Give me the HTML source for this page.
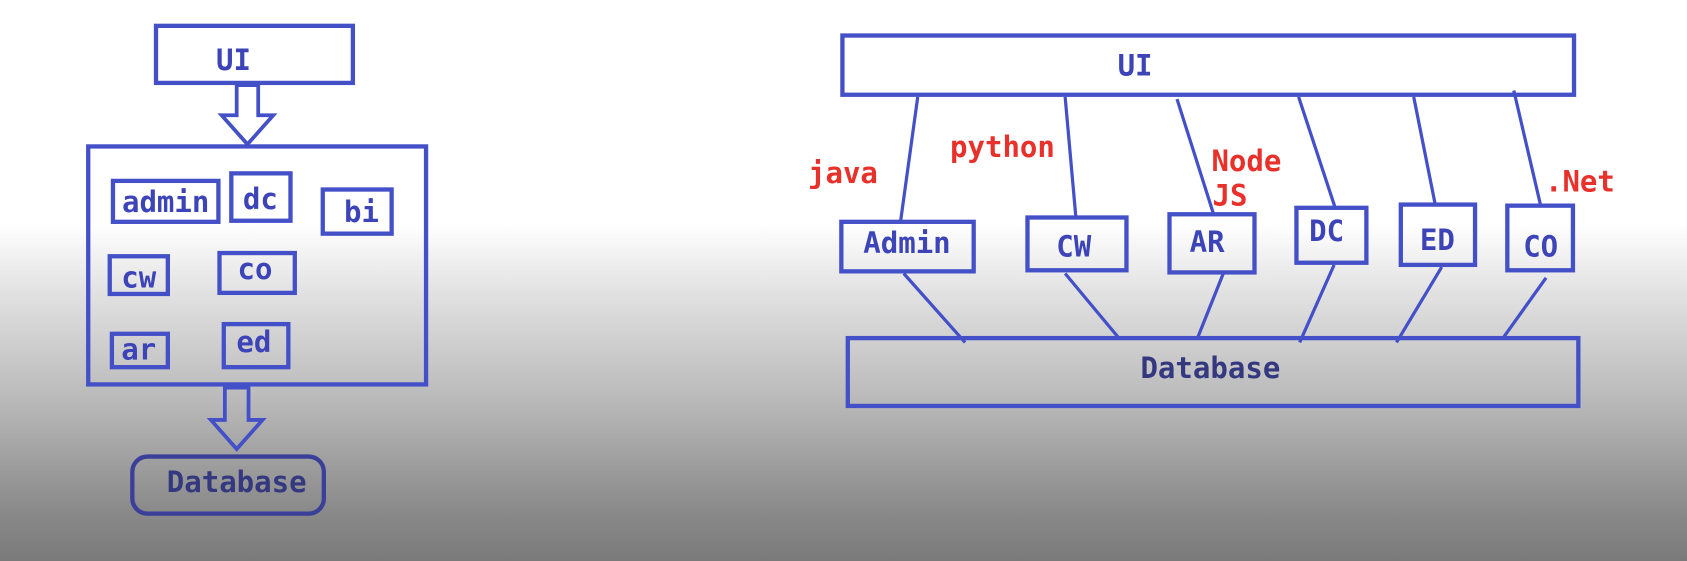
<!DOCTYPE html>
<html><head><meta charset="utf-8"><style>
html,body{margin:0;padding:0;}
body{width:1687px;height:561px;overflow:hidden;background:linear-gradient(to bottom,#fff 0%,#fff 40%,#e2e2e2 52%,#b8b8b8 72%,#8c8c8c 90%,#7a7a7a 100%);}
svg{display:block}
</style></head><body>
<svg width="1687" height="561" viewBox="0 0 1568 521" preserveAspectRatio="none">
<g fill="none" stroke="#4450c8" stroke-width="4">
<rect x="145" y="24" width="183" height="53" fill="#fff"/>
<path d="M220 79 V107 H206 L230 134 L254 107 H240 V79 Z" fill="#fff" stroke-width="3.5"/>
<rect x="82" y="136" width="314" height="221"/>
<rect x="105" y="168" width="98" height="38"/>
<rect x="215" y="161" width="55" height="44"/>
<rect x="300" y="176" width="64" height="41"/>
<rect x="102" y="238" width="54" height="35"/>
<rect x="204" y="235" width="70" height="37"/>
<rect x="104" y="310" width="52" height="31"/>
<rect x="208" y="301" width="60" height="40"/>
<path d="M209 360 V390 H196 L220 417 L244 390 H231 V360 Z" stroke-width="3.5"/>
<rect x="123" y="424" width="178" height="53" rx="14" stroke="#3a3f9a"/>
<rect x="783" y="33" width="680" height="55" fill="#fff"/>
<rect x="782" y="206" width="123" height="46"/>
<rect x="955" y="202" width="92" height="49"/>
<rect x="1087" y="199" width="79" height="54"/>
<rect x="1205" y="193" width="65" height="51"/>
<rect x="1302" y="190" width="69" height="56"/>
<rect x="1401" y="191" width="61" height="60"/>
<rect x="788" y="314" width="679" height="63"/>
<g stroke-width="3">
<line x1="853" y1="90" x2="837" y2="206"/>
<line x1="990" y1="90" x2="1000" y2="202"/>
<line x1="1094" y1="92" x2="1128" y2="199"/>
<line x1="1207" y1="90" x2="1241" y2="193"/>
<line x1="1314" y1="90" x2="1334" y2="190"/>
<line x1="1407" y1="84" x2="1432" y2="191"/>
<line x1="840" y1="254" x2="897" y2="318"/>
<line x1="990" y1="254" x2="1040" y2="314"/>
<line x1="1137" y1="254" x2="1113" y2="314"/>
<line x1="1240" y1="246" x2="1208" y2="318"/>
<line x1="1340" y1="248" x2="1298" y2="318"/>
<line x1="1437" y1="258" x2="1397" y2="314"/>
</g>
</g>
<g font-family="DejaVu Sans Mono, Liberation Mono, monospace" font-weight="bold" font-size="27" fill="#3c44b8" text-anchor="middle">
<text x="217" y="65">UI</text>
<text x="154" y="197">admin</text>
<text x="242" y="194">dc</text>
<text x="336" y="206">bi</text>
<text x="129" y="267">cw</text>
<text x="237" y="259">co</text>
<text x="129" y="334">ar</text>
<text x="236" y="327">ed</text>
<text x="220" y="457" fill="#34387f">Database</text>
<text x="1055" y="70">UI</text>
<text x="843" y="235">Admin</text>
<text x="998" y="238">CW</text>
<text x="1122" y="234">AR</text>
<text x="1233" y="224">DC</text>
<text x="1336" y="232">ED</text>
<text x="1432" y="238">CO</text>
<text x="1125" y="351" fill="#34387f">Database</text>
</g>
<g font-family="DejaVu Sans Mono, Liberation Mono, monospace" font-weight="bold" font-size="27" fill="#e8312a">
<text x="751" y="170">java</text>
<text x="883" y="146">python</text>
<text x="1126" y="159">Node</text>
<text x="1127" y="191">JS</text>
<text x="1436" y="178">.Net</text>
</g>
</svg>
</body></html>
